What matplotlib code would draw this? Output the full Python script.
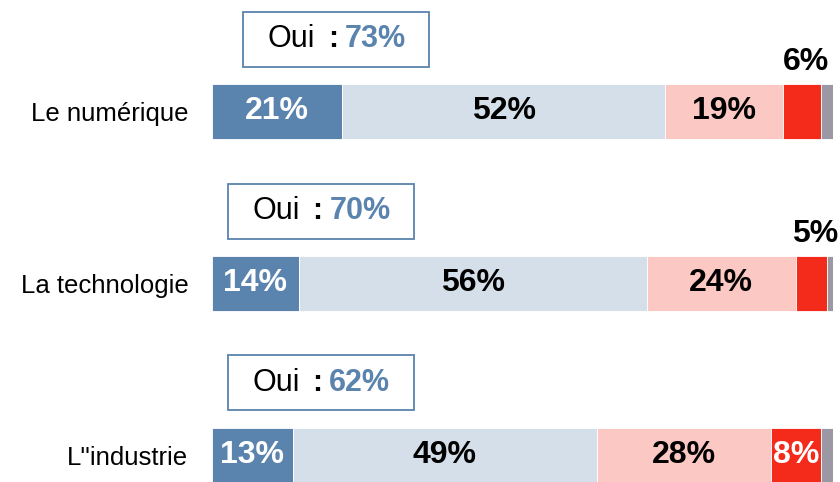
import numpy as np
import matplotlib.pyplot as plt
from matplotlib.patches import Rectangle

plt.rcParams['font.family'] = ['Liberation Sans', 'DejaVu Sans']

# Données
categories = ["Le numérique", "La technologie", "L''industrie"]
tout_a_fait = [21, 14, 13]
plutot_oui = [52, 56, 49]
plutot_non = [19, 24, 28]
pas_du_tout = [6, 5, 8]
nsp = [2, 1, 2]
oui_total = [73, 70, 62]

colors = ['#5A83AE', '#D5DFE9', '#FBC8C3', '#F42A1A', '#9B98A4']
series = [tout_a_fait, plutot_oui, plutot_non, pas_du_tout, nsp]

fig = plt.figure(figsize=(8.4, 4.82), dpi=100)
ax = fig.add_axes([212 / 840, 0, (833 - 212) / 840, 1])

y = np.arange(len(categories))
left = np.zeros(len(categories))
bar_h = 0.32
lab_size = 23
for k, (vals, col) in enumerate(zip(series, colors)):
    vals = np.array(vals, dtype=float)
    ax.barh(y, vals, left=left, height=bar_h, color=col, edgecolor='white', linewidth=0.6)
    for i, v in enumerate(vals):
        cx = left[i] + v / 2
        if k == 0:
            ax.text(cx, y[i], f"{int(v)}%", ha='center', va='center', color='white',
                    fontsize=lab_size, fontweight='bold')
        elif k in (1, 2):
            ax.text(cx, y[i], f"{int(v)}%", ha='center', va='center', color='black',
                    fontsize=lab_size, fontweight='bold')
        elif k == 3:
            if v >= 8:
                ax.text(cx, y[i], f"{int(v)}%", ha='center', va='center', color='white',
                        fontsize=lab_size, fontweight='bold')
            else:
                ax.text(cx + 0.6, y[i] - bar_h / 2 - 0.04, f"{int(v)}%", ha='center',
                        va='bottom', color='black', fontsize=lab_size, fontweight='bold')
    left += vals

# Encadrés "Oui : xx%"
box_cx = [20.0, 17.5, 17.5]
box_w = 30.0
box_h = 0.32
for i, pct in enumerate(oui_total):
    cy = y[i] - 0.42
    ax.add_patch(Rectangle((box_cx[i] - box_w / 2, cy - box_h / 2), box_w, box_h,
                           facecolor='white', edgecolor='#5A83AE', linewidth=1.3,
                           clip_on=False))
    ax.text(box_cx[i] - 3.4, cy, "Oui", ha='right', va='center', fontsize=22,
            color='black')
    ax.text(box_cx[i] + 0.3, cy, ":", ha='right', va='center', fontsize=22,
            color='black', fontweight='bold')
    ax.text(box_cx[i] + 1.4, cy, f"{pct}%", ha='left', va='center', fontsize=22,
            color='#5A83AE', fontweight='bold')

ax.set_xlim(0, 100)
ax.set_ylim(2.157, -0.649)
ax.set_yticks(y)
ax.set_yticklabels(categories, fontsize=18.5)
ax.tick_params(axis='y', length=0, pad=17)
ax.set_xticks([])
for s in ax.spines.values():
    s.set_visible(False)

fig.savefig('out.png', dpi=100)
